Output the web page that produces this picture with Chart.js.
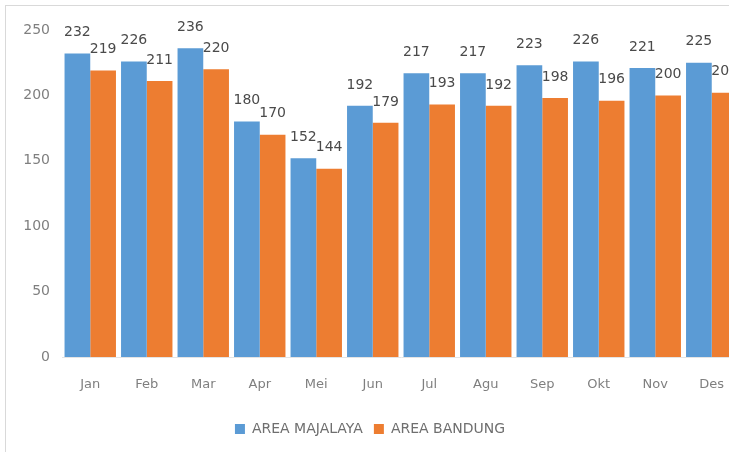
<!DOCTYPE html>
<html>
<head>
<meta charset="utf-8">
<script src="https://cdn.jsdelivr.net/npm/chart.js@4/dist/chart.umd.min.js"></script>
<style>
  html, body { margin: 0; padding: 0; background: #fff; overflow: hidden; width: 729px; height: 452px; }
  #wrap { position: relative; width: 729px; height: 452px; overflow: hidden; }
  #frame { position: absolute; left: 5px; top: 5px; width: 800px; height: 500px; border: 1px solid #d9d9d9; box-sizing: border-box; }
  #c { position: absolute; left: 0; top: 0; }
</style>
</head>
<body>
<div id="wrap">
  <div id="frame"></div>
  <canvas id="c" width="766" height="452"></canvas>
</div>
<script>
const months = ['Jan','Feb','Mar','Apr','Mei','Jun','Jul','Agu','Sep','Okt','Nov','Des'];
const areaMajalaya = [232,226,236,180,152,192,217,217,223,226,221,225];
const areaBandung = [219,211,220,170,144,179,193,192,198,196,200,202];
const yTicks = [0,50,100,150,200,250];

const FONT = "'DejaVu Sans', 'Liberation Sans', sans-serif";

const valueLabels = {
  id: 'valueLabels',
  afterDatasetsDraw(chart) {
    const ctx = chart.ctx;
    ctx.save();
    ctx.font = '14px ' + FONT;
    ctx.fillStyle = '#4a4a4a';
    ctx.textAlign = 'center';
    ctx.textBaseline = 'middle';
    chart.data.datasets.forEach((ds, i) => {
      const meta = chart.getDatasetMeta(i);
      meta.data.forEach((bar, j) => {
        ctx.fillText(String(ds.data[j]), bar.x, bar.y - 21);
      });
    });
    ctx.restore();
  }
};

new Chart(document.getElementById('c'), {
  type: 'bar',
  data: {
    labels: months,
    datasets: [
      { label: 'AREA MAJALAYA', data: areaMajalaya, backgroundColor: '#5B9BD5', categoryPercentage: 0.91, barPercentage: 1.0 },
      { label: 'AREA BANDUNG', data: areaBandung, backgroundColor: '#ED7D31', categoryPercentage: 0.91, barPercentage: 1.0 }
    ]
  },
  options: {
    responsive: false,
    animation: false,
    devicePixelRatio: 1,
    layout: { padding: { top: 30, left: 0, right: 26, bottom: 6 } },
    plugins: {
      legend: {
        position: 'bottom',
        labels: { boxWidth: 10, boxHeight: 10, color: '#6f6f6f', font: { size: 14, family: FONT }, padding: 11 }
      },
      tooltip: { enabled: false }
    },
    scales: {
      x: {
        afterFit(scale) { scale.height = 54; },
        grid: { display: false },
        border: { display: true, color: '#e4e4e4' },
        ticks: { color: '#7f7f7f', font: { size: 13, family: FONT }, padding: 12 }
      },
      y: {
        min: 0, max: 250,
        afterBuildTicks(scale) { scale.ticks = yTicks.map(v => ({ value: v })); },
        afterFit(scale) { scale.width = 62; },
        grid: { display: false },
        border: { display: false },
        ticks: { color: '#7f7f7f', font: { size: 14, family: FONT }, padding: 4 }
      }
    }
  },
  plugins: [valueLabels]
});
</script>
</body>
</html>
